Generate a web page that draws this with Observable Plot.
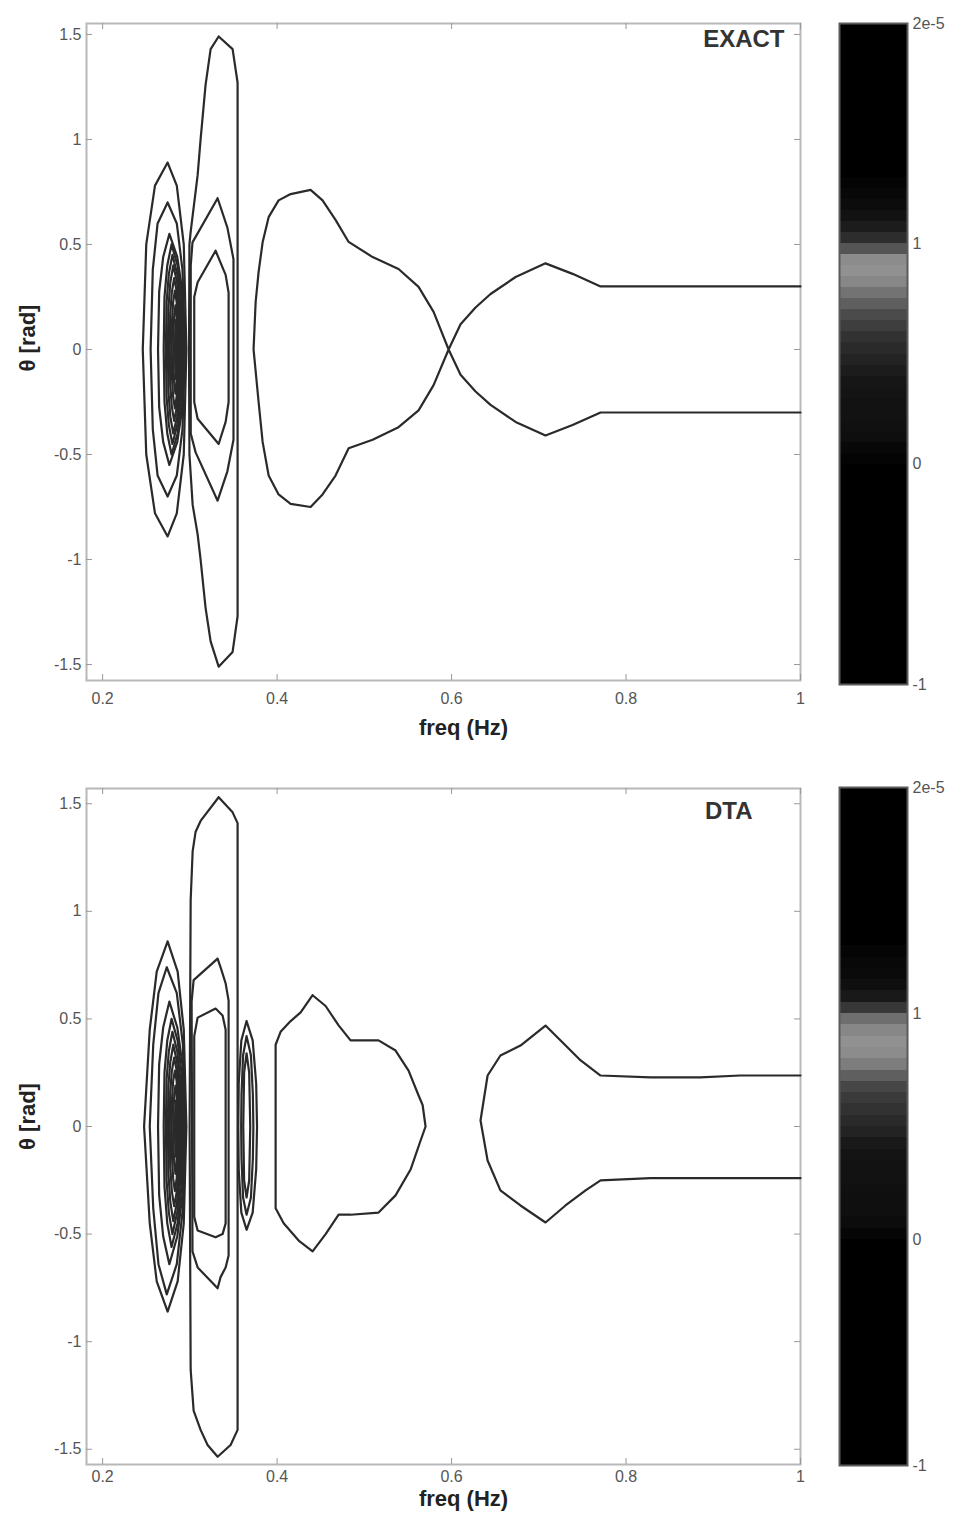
<!DOCTYPE html>
<html><head><meta charset="utf-8">
<script src="https://cdn.jsdelivr.net/npm/d3@7"></script>
<script src="https://cdn.jsdelivr.net/npm/@observablehq/plot@0.6"></script>
<style>
body{margin:0;background:#fff;}
#wrap{position:relative;width:956px;height:1517px;overflow:hidden;background:#fff;}
#wrap > div{position:absolute;}
</style></head><body>
<div id="wrap"><div id="p1" style="left:0;top:0"></div><div id="c1" style="left:830px;top:0"></div><div id="p2" style="left:0;top:760px"></div><div id="c2" style="left:830px;top:760px"></div></div>
<script>
// ---- axes ----
const xTicks = [0.2, 0.4, 0.6, 0.8, 1];
const xTickLabels = ["0.2", "0.4", "0.6", "0.8", "1"];
const yTicks = [-1.5, -1, -0.5, 0, 0.5, 1, 1.5];
const yTickLabels = ["-1.5", "-1", "-0.5", "0", "0.5", "1", "1.5"];
const cbTicks = [-1, 0, 1, 2];
const cbTickLabels = ["-1", "0", "1", "2e-5"];
const panelLabels = ["EXACT", "DTA"];

// ---- colorbar bins (value ranges) and grey levels ----
const cbLo = [-1,-0.95,-0.9,-0.85,-0.8,-0.75,-0.7,-0.65,-0.6,-0.55,-0.5,-0.45,-0.4,-0.35,-0.3,-0.25,-0.2,-0.15,-0.1,-0.05,
  0,0.05,0.1,0.15,0.2,0.25,0.3,0.35,0.4,0.45,0.5,0.55,0.6,0.65,0.7,0.75,0.8,0.85,0.9,0.95,
  1,1.05,1.1,1.15,1.2,1.25,1.3,1.35,1.4,1.45,1.5,1.55,1.6,1.65,1.7,1.75,1.8,1.85,1.9,1.95];
const cbGrayExact = [0,0,0,0,0,0,0,0,0,0,0,0,0,0,0,0,0,0,0,0,
  4,8,14,16,18,18,20,22,28,35,42,50,62,75,95,115,135,145,140,85,
  45,28,18,12,8,4,0,0,0,0,0,0,0,0,0,0,0,0,0,0];
const cbGrayDTA = [0,0,0,0,0,0,0,0,0,0,0,0,0,0,0,0,0,0,0,0,
  6,12,15,15,16,18,18,20,25,35,42,50,58,70,95,125,140,145,135,110,
  55,25,15,10,8,5,0,0,0,0,0,0,0,0,0,0,0,0,0,0];

// ---- EXACT contours: [freq (Hz), theta (rad)] ----
const exactSaddle = [[1.0,0.30],[0.7708,0.30],[0.7387,0.36],[0.7077,0.41],[0.6734,0.345],[0.6447,0.264],[0.6275,0.20],[0.6103,0.12],[0.5966,0.0],[0.5794,-0.17],[0.5622,-0.29],[0.5392,-0.37],[0.5095,-0.43],[0.482,-0.47],[0.467,-0.60],[0.4521,-0.69],[0.4384,-0.75],[0.4155,-0.735],[0.4017,-0.69],[0.3903,-0.60],[0.3834,-0.44],[0.3788,-0.25],[0.3730,0.0],[0.3754,0.226],[0.3788,0.369],[0.3834,0.51],[0.3903,0.63],[0.4017,0.71],[0.4155,0.74],[0.4384,0.76],[0.4521,0.71],[0.467,0.617],[0.482,0.512],[0.5095,0.44],[0.5392,0.383],[0.5622,0.298],[0.5794,0.179],[0.5966,0.0],[0.6103,-0.12],[0.6275,-0.20],[0.6447,-0.264],[0.6734,-0.345],[0.7077,-0.41],[0.7387,-0.36],[0.7708,-0.30],[1.0,-0.30]];
const exactTall = [[0.333,1.49],[0.349,1.43],[0.3547,1.27],[0.3547,-1.27],[0.349,-1.44],[0.333,-1.51],[0.3238,-1.39],[0.318,-1.23],[0.3123,-1.0],[0.3089,-0.88],[0.3032,-0.74],[0.2995,-0.5],[0.299,0],[0.2995,0.5],[0.3009,0.56],[0.3089,0.83],[0.3123,1.0],[0.318,1.26],[0.3238,1.43],[0.333,1.49]];
const exactD1 = [[0.3318,0.72],[0.343,0.58],[0.350,0.43],[0.350,-0.43],[0.343,-0.58],[0.3318,-0.72],[0.3066,-0.49],[0.301,-0.40],[0.301,0.40],[0.3030,0.51],[0.3318,0.72]];
const exactD2 = [[0.3295,0.47],[0.341,0.355],[0.3444,0.27],[0.3444,-0.25],[0.341,-0.345],[0.333,-0.45],[0.3089,-0.33],[0.305,-0.25],[0.305,0.25],[0.3089,0.32],[0.3295,0.47]];
const exactE1 = [[0.2745,0.89],[0.2600,0.78],[0.2500,0.50],[0.2460,0.0],[0.2500,-0.50],[0.2600,-0.78],[0.2745,-0.89],[0.2850,-0.78],[0.2930,-0.50],[0.2960,0.0],[0.2930,0.50],[0.2850,0.78],[0.2745,0.89]];
const exactE2 = [[0.2745,0.70],[0.2630,0.60],[0.2575,0.38],[0.2550,0.0],[0.2575,-0.38],[0.2630,-0.60],[0.2745,-0.70],[0.2850,-0.60],[0.2915,-0.38],[0.2945,0],[0.2915,0.38],[0.2850,0.60],[0.2745,0.70]];
const exactE3 = [[0.2765,0.55],[0.2694,0.44],[0.2648,0.275],[0.2635,0],[0.2648,-0.275],[0.2694,-0.44],[0.2765,-0.55],[0.2856,-0.44],[0.2914,-0.275],[0.2930,0],[0.2914,0.275],[0.2856,0.44],[0.2765,0.55]];
const exactE4 = [[0.2790,0.50],[0.2741,0.40],[0.2709,0.25],[0.2700,0],[0.2709,-0.25],[0.2741,-0.40],[0.2790,-0.50],[0.2859,-0.40],[0.2903,-0.25],[0.2915,0],[0.2903,0.25],[0.2859,0.40],[0.2790,0.50]];
const exactE5 = [[0.2800,0.45],[0.2759,0.36],[0.2733,0.225],[0.2725,0],[0.2733,-0.225],[0.2759,-0.36],[0.2800,-0.45],[0.2855,-0.36],[0.2890,-0.225],[0.2900,0],[0.2890,0.225],[0.2855,0.36],[0.2800,0.45]];
const exactE6 = [[0.2810,0.40],[0.2776,0.32],[0.2754,0.20],[0.2748,0],[0.2754,-0.20],[0.2776,-0.32],[0.2810,-0.40],[0.2853,-0.32],[0.2880,-0.20],[0.2888,0],[0.2880,0.20],[0.2853,0.32],[0.2810,0.40]];
const exactE7 = [[0.2820,0.34],[0.2793,0.272],[0.2775,0.17],[0.2770,0],[0.2775,-0.17],[0.2793,-0.272],[0.2820,-0.34],[0.2851,-0.272],[0.2870,-0.17],[0.2876,0],[0.2870,0.17],[0.2851,0.272],[0.2820,0.34]];
const exactE8 = [[0.2828,0.28],[0.2808,0.224],[0.2796,0.14],[0.2792,0],[0.2796,-0.14],[0.2808,-0.224],[0.2828,-0.28],[0.2849,-0.224],[0.2862,-0.14],[0.2866,0],[0.2862,0.14],[0.2849,0.224],[0.2828,0.28]];
const exactE9 = [[0.2835,0.21],[0.2822,0.168],[0.2814,0.105],[0.2812,0],[0.2814,-0.105],[0.2822,-0.168],[0.2835,-0.21],[0.2847,-0.168],[0.2855,-0.105],[0.2857,0],[0.2855,0.105],[0.2847,0.168],[0.2835,0.21]];
const exactE10 = [[0.2840,0.14],[0.2832,0.07],[0.2830,0],[0.2832,-0.07],[0.2840,-0.14],[0.2848,-0.07],[0.2850,0],[0.2848,0.07],[0.2840,0.14]];

// ---- DTA contours ----
const dtaTall = [[0.333,1.53],[0.349,1.46],[0.3547,1.41],[0.3547,-1.41],[0.3467,-1.48],[0.3318,-1.535],[0.3203,-1.48],[0.3123,-1.41],[0.3043,-1.32],[0.3009,-1.13],[0.2997,0],[0.3009,1.05],[0.3032,1.28],[0.3066,1.37],[0.3123,1.42],[0.333,1.53]];
const dtaD1 = [[0.3318,0.78],[0.3352,0.74],[0.341,0.665],[0.3444,0.585],[0.3444,-0.6],[0.341,-0.655],[0.3352,-0.70],[0.3318,-0.752],[0.3089,-0.655],[0.3030,-0.58],[0.3020,0.58],[0.3043,0.68],[0.3318,0.78]];
const dtaD2 = [[0.3295,0.548],[0.3375,0.516],[0.341,0.45],[0.341,-0.45],[0.3375,-0.50],[0.3295,-0.515],[0.3089,-0.483],[0.3050,-0.42],[0.3050,0.42],[0.3089,0.506],[0.3295,0.548]];
const dtaR1 = [[0.3650,0.49],[0.3720,0.40],[0.3760,0.2],[0.3770,0],[0.3760,-0.2],[0.3720,-0.40],[0.3650,-0.48],[0.3590,-0.40],[0.3560,-0.2],[0.3555,0],[0.3560,0.2],[0.3590,0.40],[0.3650,0.49]];
const dtaR2 = [[0.3650,0.42],[0.3700,0.33],[0.3722,0.15],[0.3728,0],[0.3722,-0.15],[0.3700,-0.33],[0.3650,-0.41],[0.3610,-0.33],[0.3592,-0.15],[0.3588,0],[0.3592,0.15],[0.3610,0.33],[0.3650,0.42]];
const dtaR3 = [[0.3650,0.34],[0.3680,0.25],[0.3692,0],[0.3680,-0.25],[0.3650,-0.33],[0.3622,-0.25],[0.3612,0],[0.3622,0.25],[0.3650,0.34]];
const dtaE1 = [[0.2745,0.86],[0.2620,0.72],[0.2540,0.45],[0.2475,0.0],[0.2540,-0.45],[0.2620,-0.72],[0.2745,-0.86],[0.2860,-0.72],[0.2930,-0.45],[0.2960,0],[0.2930,0.45],[0.2860,0.72],[0.2745,0.86]];
const dtaE2 = [[0.2735,0.74],[0.2640,0.62],[0.2580,0.38],[0.2540,0],[0.2580,-0.38],[0.2640,-0.64],[0.2735,-0.78],[0.2850,-0.64],[0.2920,-0.38],[0.2945,0],[0.2920,0.38],[0.2850,0.62],[0.2735,0.74]];
const dtaE3 = [[0.2765,0.58],[0.2694,0.46],[0.2648,0.29],[0.2635,0],[0.2648,-0.32],[0.2694,-0.51],[0.2765,-0.64],[0.2856,-0.51],[0.2914,-0.32],[0.2930,0],[0.2914,0.29],[0.2856,0.46],[0.2765,0.58]];
const dtaE4 = [[0.2790,0.50],[0.2741,0.40],[0.2709,0.25],[0.2700,0],[0.2709,-0.28],[0.2741,-0.45],[0.2790,-0.56],[0.2859,-0.45],[0.2903,-0.28],[0.2915,0],[0.2903,0.25],[0.2859,0.40],[0.2790,0.50]];
const dtaE5 = [[0.2800,0.44],[0.2759,0.35],[0.2733,0.22],[0.2725,0],[0.2733,-0.25],[0.2759,-0.40],[0.2800,-0.50],[0.2855,-0.40],[0.2890,-0.25],[0.2900,0],[0.2890,0.22],[0.2855,0.35],[0.2800,0.44]];
const dtaE6 = [[0.2810,0.38],[0.2776,0.30],[0.2754,0.19],[0.2748,0],[0.2754,-0.22],[0.2776,-0.35],[0.2810,-0.44],[0.2853,-0.35],[0.2880,-0.22],[0.2888,0],[0.2880,0.19],[0.2853,0.30],[0.2810,0.38]];
const dtaE7 = [[0.2820,0.32],[0.2793,0.256],[0.2775,0.16],[0.2770,0],[0.2775,-0.185],[0.2793,-0.30],[0.2820,-0.37],[0.2851,-0.30],[0.2870,-0.185],[0.2876,0],[0.2870,0.16],[0.2851,0.256],[0.2820,0.32]];
const dtaE8 = [[0.2828,0.26],[0.2808,0.21],[0.2796,0.13],[0.2792,0],[0.2796,-0.15],[0.2808,-0.24],[0.2828,-0.30],[0.2849,-0.24],[0.2862,-0.15],[0.2866,0],[0.2862,0.13],[0.2849,0.21],[0.2828,0.26]];
const dtaE9 = [[0.2835,0.19],[0.2822,0.152],[0.2814,0.095],[0.2812,0],[0.2814,-0.11],[0.2822,-0.176],[0.2835,-0.22],[0.2847,-0.176],[0.2855,-0.11],[0.2857,0],[0.2855,0.095],[0.2847,0.152],[0.2835,0.19]];
const dtaE10 = [[0.2840,0.12],[0.2832,0.06],[0.2830,0],[0.2832,-0.07],[0.2840,-0.14],[0.2848,-0.07],[0.2850,0],[0.2848,0.06],[0.2840,0.12]];
const dtaBulge = [[0.4407,0.61],[0.4270,0.53],[0.4155,0.49],[0.4040,0.44],[0.3983,0.38],[0.3983,-0.38],[0.4075,-0.45],[0.4247,-0.53],[0.4407,-0.58],[0.4556,-0.50],[0.4705,-0.41],[0.4842,-0.41],[0.5163,-0.40],[0.5358,-0.32],[0.553,-0.20],[0.5645,-0.065],[0.5702,0.0],[0.5668,0.10],[0.5622,0.144],[0.5507,0.26],[0.5358,0.353],[0.5163,0.40],[0.4842,0.40],[0.4705,0.47],[0.4556,0.56],[0.4407,0.61]];
const dtaRight = [[1.0,0.237],[0.931,0.237],[0.885,0.228],[0.828,0.228],[0.7708,0.237],[0.748,0.307],[0.725,0.40],[0.7077,0.469],[0.679,0.376],[0.656,0.33],[0.6413,0.237],[0.6332,0.028],[0.6413,-0.158],[0.656,-0.297],[0.679,-0.367],[0.7077,-0.446],[0.7306,-0.367],[0.7536,-0.297],[0.7708,-0.25],[0.828,-0.24],[0.931,-0.24],[1.0,-0.24]];

const exactContours = [exactSaddle, exactTall, exactD1, exactD2, exactE1, exactE2, exactE3, exactE4, exactE5, exactE6, exactE7, exactE8, exactE9, exactE10];
const dtaContours = [dtaBulge, dtaRight, dtaTall, dtaD1, dtaD2, dtaR1, dtaR2, dtaR3, dtaE1, dtaE2, dtaE3, dtaE4, dtaE5, dtaE6, dtaE7, dtaE8, dtaE9, dtaE10];

const FONT = "'Liberation Sans', Arial, Helvetica, sans-serif";

function mainPlot({contours, label, labelDx, labelDy, height, mTop, mBottom, yDomain, tickPad, titleDy, yTitleDy}) {
  const W = 830, mL = 86, mR = 30;
  const innerW = W - mL - mR, innerH = height - mTop - mBottom;
  return Plot.plot({
    width: W, height, marginLeft: mL, marginRight: mR, marginTop: mTop, marginBottom: mBottom,
    x: {domain: [0.1815, 1]},
    y: {domain: yDomain},
    style: {fontFamily: FONT, fontSize: "16px", color: "#333", background: "white"},
    marks: [
      Plot.frame({stroke: "#b8b8b8", strokeWidth: 2}),
      Plot.tickX(xTicks, {x: d => d, insetTop: innerH - 6, stroke: "#999"}),
      Plot.tickX(xTicks, {x: d => d, insetBottom: innerH - 6, stroke: "#999"}),
      Plot.tickY(yTicks, {y: d => d, insetRight: innerW - 6, stroke: "#999"}),
      Plot.tickY(yTicks, {y: d => d, insetLeft: innerW - 6, stroke: "#999"}),
      Plot.axisX(xTicks, {tickSize: 0, tickPadding: tickPad, fill: "#555", tickFormat: d => xTickLabels[xTicks.indexOf(d)]}),
      Plot.axisY(yTicks, {tickSize: 0, tickPadding: 5, fill: "#555", tickFormat: d => yTickLabels[yTicks.indexOf(d)]}),
      ...contours.map(c => Plot.line(c, {x: d => d[0], y: d => d[1], stroke: "#2a2a2a", strokeWidth: 2.2, strokeLinejoin: "round"})),
      Plot.text([label], {text: d => d, frameAnchor: "top-right", textAnchor: "end", lineAnchor: "top", dx: labelDx, dy: labelDy, fontSize: 24, fontWeight: "bold", fill: "#333", letterSpacing: "2px"}),
      Plot.text(["freq (Hz)"], {text: d => d, frameAnchor: "bottom", textAnchor: "middle", lineAnchor: "middle", dx: 20, dy: titleDy, fontSize: 22, fontWeight: "bold", fill: "#222"}),
      Plot.text(["θ [rad]"], {text: d => d, frameAnchor: "left", textAnchor: "middle", rotate: -90, lineAnchor: "middle", dx: -59, dy: yTitleDy, fontSize: 22, fontWeight: "bold", fill: "#222"})
    ]
  });
}

function colorbar({grays, height, mTop, mBottom}) {
  const data = cbLo.map((lo, i) => ({lo, hi: i + 1 < cbLo.length ? cbLo[i + 1] : 2, g: grays[i]}));
  return Plot.plot({
    width: 126, height, marginLeft: 9, marginRight: 49, marginTop: mTop, marginBottom: mBottom,
    x: {domain: [0, 1], axis: null},
    y: {domain: [-1, 2]},
    style: {fontFamily: FONT, fontSize: "16px", color: "#333", background: "white"},
    marks: [
      Plot.rect(data, {x1: 0, x2: 1, y1: "lo", y2: "hi", fill: d => `rgb(${d.g},${d.g},${d.g})`, shapeRendering: "crispEdges"}),
      Plot.frame({stroke: "#5a5a5a", strokeWidth: 2}),
      Plot.axisY(cbTicks, {anchor: "right", tickSize: 0, tickPadding: 5, fill: "#555", tickFormat: d => cbTickLabels[cbTicks.indexOf(d)]})
    ]
  });
}

document.getElementById("p1").appendChild(mainPlot({contours: exactContours, label: panelLabels[0], labelDx: -16, labelDy: 6,
  height: 745, mTop: 23, mBottom: 65, yDomain: [-1.576, 1.552], tickPad: 12, titleDy: 47, yTitleDy: -14}));
document.getElementById("c1").appendChild(colorbar({grays: cbGrayExact, height: 745, mTop: 23, mBottom: 61}));
document.getElementById("p2").appendChild(mainPlot({contours: dtaContours, label: panelLabels[1], labelDx: -48, labelDy: 13,
  height: 757, mTop: 28, mBottom: 53, yDomain: [-1.5708, 1.5708], tickPad: 6, titleDy: 34, yTitleDy: -10}));
document.getElementById("c2").appendChild(colorbar({grays: cbGrayDTA, height: 757, mTop: 27, mBottom: 52}));
</script>
</body></html>
